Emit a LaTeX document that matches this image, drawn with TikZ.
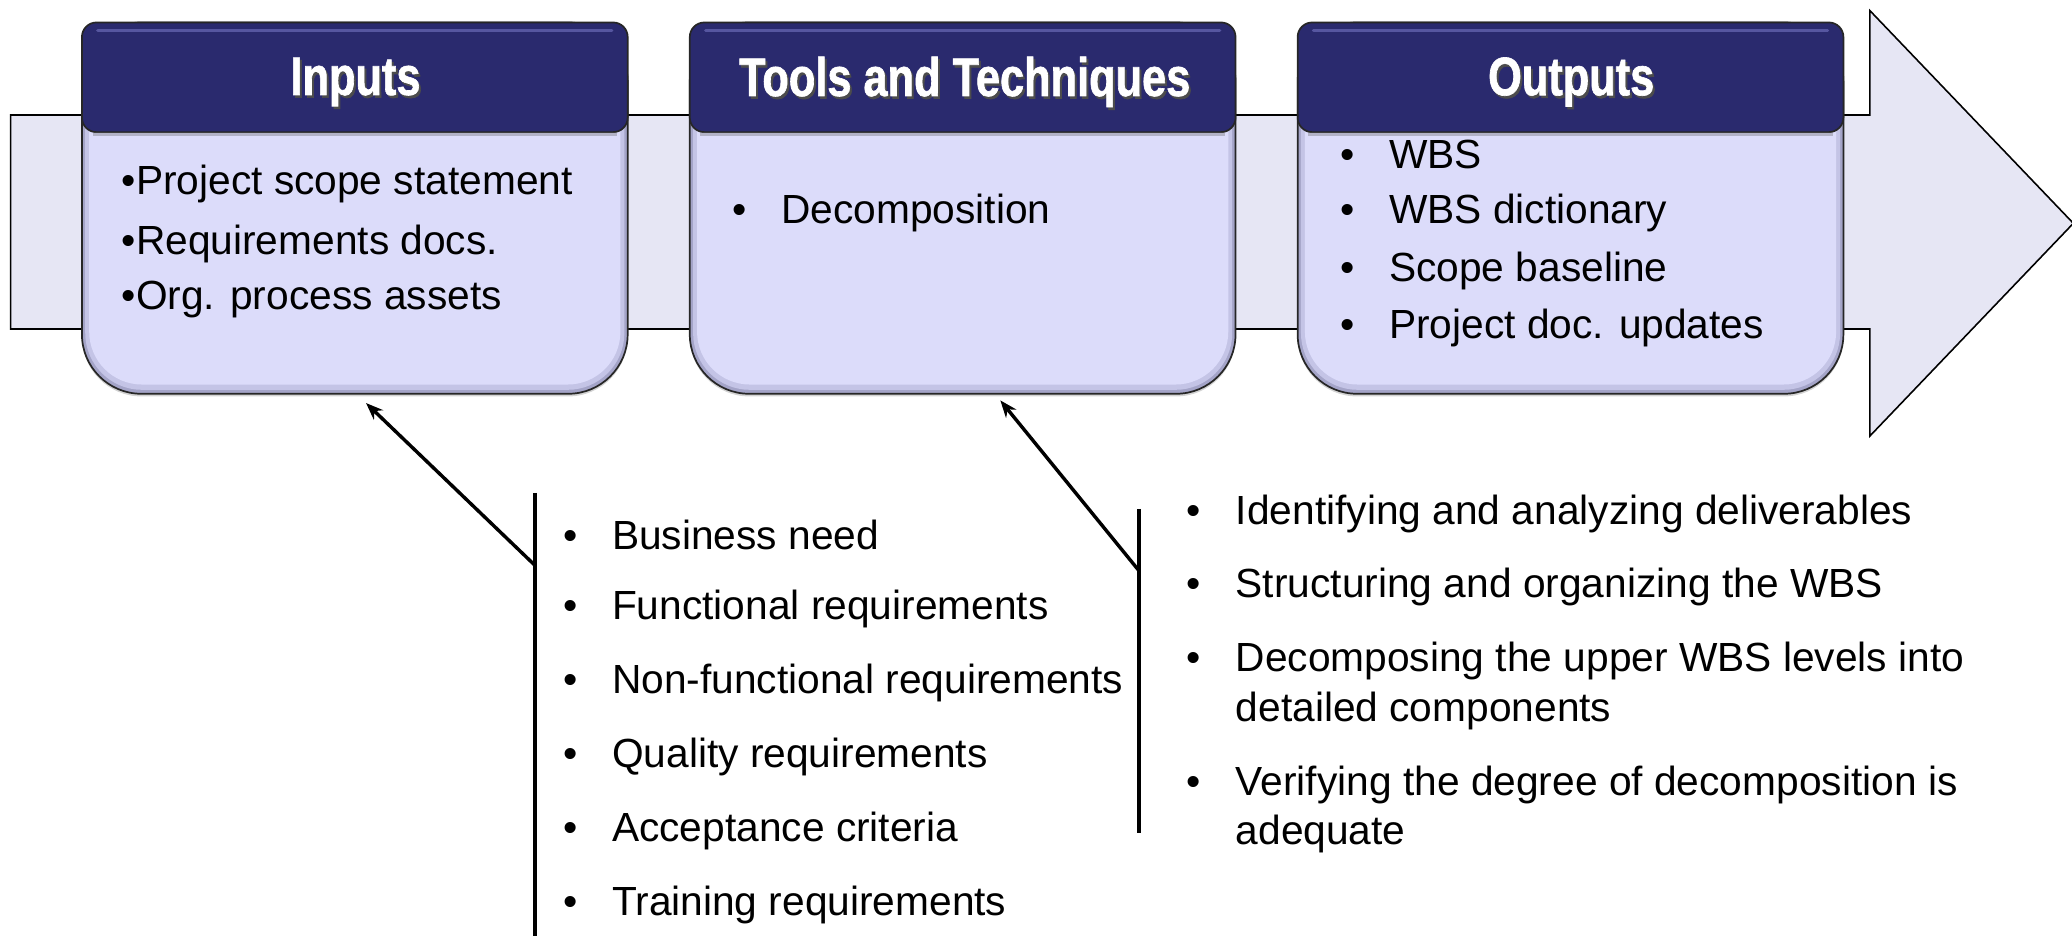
\documentclass[tikz,border=0pt]{standalone}
\usepackage{fontspec}
\setmainfont{Liberation Sans}
\newfontfamily\headfont{Liberation Sans}[FakeStretch=0.8,FakeBold=1.2]
\usetikzlibrary{arrows.meta,shadows}
\definecolor{navy}{HTML}{2A2A6E}
\definecolor{navylight}{HTML}{5656A0}
\definecolor{bodyfill}{HTML}{DCDCFA}
\definecolor{bodyrim}{HTML}{A4A4C8}
\definecolor{bodymid}{HTML}{C4C4E6}
\definecolor{bandfill}{HTML}{E6E6F4}
\tikzset{
  bodybox/.style={fill=bodyrim, draw=black!85, line width=1.3pt, rounded corners=45pt,
    drop shadow={shadow xshift=0pt, shadow yshift=-2pt, opacity=0.35}},
  bodyin/.style={rounded corners=40pt},
  headbox/.style={fill=navy, draw=black!85, line width=1.3pt, rounded corners=11pt},
  headtext/.style={text=white, font=\headfont\bfseries\fontsize{41}{45}\selectfont, inner sep=0pt},
  headshadow/.style={text=black!70, font=\headfont\bfseries\fontsize{41}{45}\selectfont, inner sep=0pt},
  itemtext/.style={anchor=west, inner sep=0pt, font=\fontsize{30.8}{36}\selectfont},
  brace/.style={line width=3.5pt},
  link/.style={line width=2.6pt, -{Stealth[length=13pt, width=10pt]}}
}
\newcommand{\bl}{\makebox[37pt][l]{\textbullet}}
\begin{document}
\begin{tikzpicture}[x=1pt,y=-1pt]
\useasboundingbox (0,0) rectangle (1568,708);
% background arrow
\draw[fill=bandfill, line width=1.2pt] (8,87) -- (1415,87) -- (1415,8) -- (1569,169)
  -- (1415,330) -- (1415,249) -- (8,249) -- cycle;
% boxes
\foreach \x/\nm in {62/in,522/tt,982/out}{
  \path[bodybox] (\x,17) rectangle (\x+413,298);
  \fill[bodymid, rounded corners=43pt] (\x+2.5,19) rectangle (\x+410.5,295);
  \fill[bodyfill, rounded corners=40pt] (\x+5.5,22) rectangle (\x+407.5,291);
  \path[headbox] (\x,17) rectangle (\x+413,100);
  \draw[navylight, line width=2.5pt, line cap=round] (\x+12,23) -- (\x+401,23);
  \fill[black!60, opacity=0.35] (\x+8,100) rectangle (\x+405,103);
  \coordinate (\nm-bot) at (\x+215,305);
}
\foreach \cx/\t/\nm in {269/Inputs/hin,730/Tools and Techniques/htt,1189/Outputs/hout}{
  \node[headshadow] at (\cx+1.5,64) {\t};
  \node[headtext] (\nm) at (\cx,62) {\t};
}
% inputs
\node[itemtext] (i1) at (92,139) {\textbullet Project scope statement};
\node[itemtext] (i2) at (92,185) {\textbullet Requirements docs.};
\node[itemtext] (i3) at (92,227) {\textbullet Org. process assets};
% tools
\node[itemtext] (t1) at (554,161) {\bl Decomposition};
% outputs
\node[itemtext] (o1) at (1014,117) {\bl WBS};
\node[itemtext] (o2) at (1014,161) {\bl WBS dictionary};
\node[itemtext] (o3) at (1014,205) {\bl Scope baseline};
\node[itemtext] (o4) at (1014,248) {\bl Project doc. updates};
% lower left list
\draw[brace] (405,373) coordinate (la) -- (405,712) coordinate (lb);
\coordinate (lj) at (405,428);
\node[itemtext] (l1) at (426,405) {\bl Business need};
\node[itemtext] (l2) at (426,461) {\bl Functional requirements};
\node[itemtext] (l3) at (426,517) {\bl Non-functional requirements};
\node[itemtext] (l4) at (426,573) {\bl Quality requirements};
\node[itemtext] (l5) at (426,629) {\bl Acceptance criteria};
\node[itemtext] (l6) at (426,685) {\bl Training requirements};
% lower right list
\draw[brace] (862,385) coordinate (ra) -- (862,630) coordinate (rb);
\coordinate (rj) at (862,432);
\node[itemtext] (r1) at (898,389) {\bl Identifying and analyzing deliverables};
\node[itemtext] (r2) at (898,444) {\bl Structuring and organizing the WBS};
\node[itemtext] (r3) at (898,500) {\bl Decomposing the upper WBS levels into};
\node[itemtext] (r3b) at (935,538) {detailed components};
\node[itemtext] (r4) at (898,594) {\bl Verifying the degree of decomposition is};
\node[itemtext] (r4b) at (935,631) {adequate};
% connectors
\coordinate (inTip) at (277,305);
\coordinate (ttTip) at (757,303);
\draw[link] (lj) -- (inTip);
\draw[link] (rj) -- (ttTip);
\end{tikzpicture}
\end{document}
